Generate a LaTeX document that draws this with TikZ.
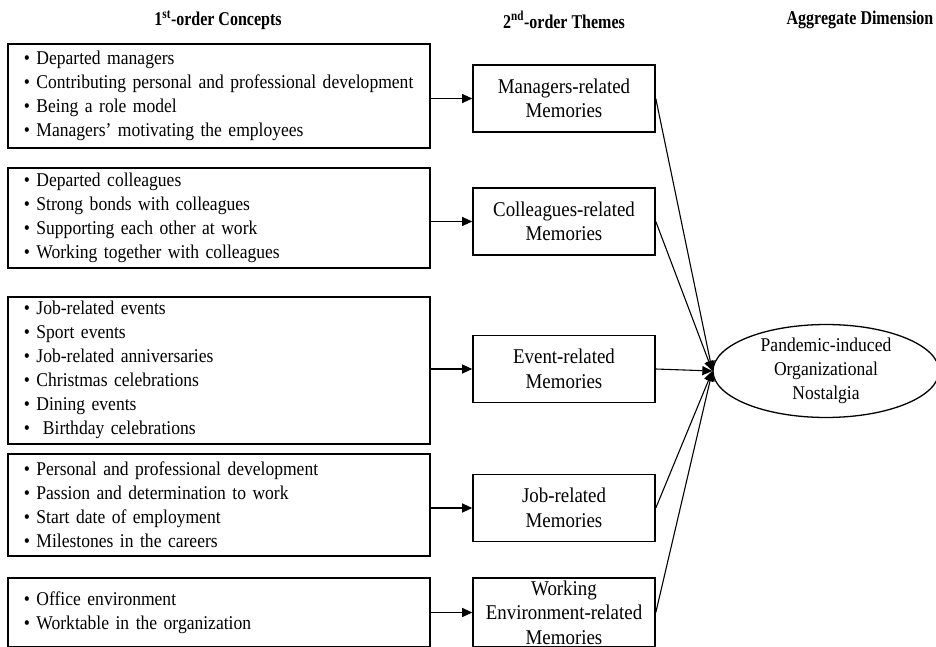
\documentclass[tikz,border=0pt]{standalone}
\usepackage{fontspec}
\setmainfont[FakeStretch=0.9]{Liberation Serif}
\newfontfamily\headfont[FakeStretch=0.82]{Liberation Serif}
\usetikzlibrary{shapes.geometric,arrows.meta}
\def\bodysize{\fontsize{19.5}{24}\selectfont}
\def\themesize{\fontsize{21}{24.5}\selectfont}
\def\headsize{\headfont\fontsize{19.5}{22}\selectfont\bfseries}

\tikzset{
  concept/.style={draw, line width=1.6pt, anchor=north west, text width=390pt, align=left, inner xsep=16pt, inner ysep=0pt, font=\bodysize},
  theme/.style={draw, line width=1.6pt, minimum width=182pt, minimum height=67pt, align=center, inner sep=0pt, font=\themesize},
  dimension/.style={draw, ellipse, line width=1.3pt, minimum width=226pt, minimum height=73pt, inner sep=0pt, align=center, font=\bodysize},
  heading/.style={font=\headsize},
  arr/.style={line width=1.1pt, -{Triangle[length=10pt,width=9pt]}}
}

\begin{document}
\begin{tikzpicture}[x=1pt,y=-1pt]
		%%%%% START %%%%%
		\useasboundingbox (0,0) rectangle (936,647);
		
		\node[heading] (h1) at (218,20) {1\textsuperscript{st}-order Concepts};
		\node[heading] (h2) at (564,20) {2\textsuperscript{nd}-order Themes};
		\node[heading] (h3) at (860,20) {Aggregate Dimension};
		
		\node[concept, minimum height=104pt] (c1) at (7,43) {\textbullet{} Departed managers\\ \textbullet{} Contributing personal and professional development\\ \textbullet{} Being a role model\\ \textbullet{} Managers' motivating the employees};
		\node[concept, minimum height=100pt] (c2) at (7,167) {\textbullet{} Departed colleagues\\ \textbullet{} Strong bonds with colleagues\\ \textbullet{} Supporting each other at work\\ \textbullet{} Working together with colleagues};
		\node[concept, minimum height=147pt] (c3) at (7,296) {\textbullet{} Job-related events\\ \textbullet{} Sport events\\ \textbullet{} Job-related anniversaries\\ \textbullet{} Christmas celebrations\\ \textbullet{} Dining events\\ \textbullet{}\ \ Birthday celebrations};
		\node[concept, minimum height=102pt] (c4) at (7,453) {\textbullet{} Personal and professional development\\ \textbullet{} Passion and determination to work\\ \textbullet{} Start date of employment\\ \textbullet{} Milestones in the careers};
		\node[concept, minimum height=69pt] (c5) at (7,577) {\textbullet{} Office environment\\ \textbullet{} Worktable in the organization};
		
		\node[theme] (t1) at (564,98.5) {Managers-related\\Memories};
		\node[theme] (t2) at (564,221.5) {Colleagues-related\\Memories};
		\node[theme] (t3) at (564,369) {Event-related\\Memories};
		\node[theme] (t4) at (564,508) {Job-related\\Memories};
		\node[theme, minimum height=69pt] (t5) at (564,612.5) {Working\\Environment-related\\Memories};
		
		\node[dimension] (agg) at (826,371) {Pandemic-induced\\Organizational\\Nostalgia};
		
		\draw[arr] (c1.east |- t1.west) -- (t1.west);
		\draw[arr] (c2.east |- t2.west) -- (t2.west);
		\draw[arr] (c3.east |- t3.west) -- (t3.west);
		\draw[arr] (c4.east |- t4.west) -- (t4.west);
		\draw[arr] (c5.east |- t5.west) -- (t5.west);
		
		\draw[arr] (t1.east) -- (agg.west);
		\draw[arr] (t2.east) -- (agg.west);
		\draw[arr] (t3.east) -- (agg.west);
		\draw[arr] (t4.east) -- (agg.west);
		\draw[arr] (t5.east) -- (agg.west);
		
		%%%%% END %%%%%
	\end{tikzpicture}
\end{document}
